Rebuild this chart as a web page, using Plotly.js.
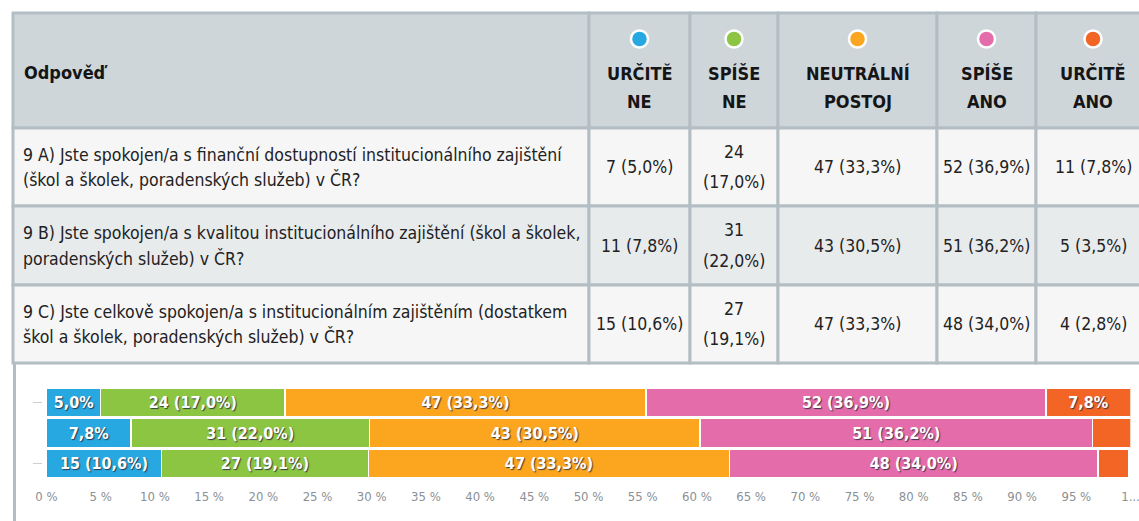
<!DOCTYPE html>
<html>
<head>
<meta charset="utf-8">
<script src="https://cdn.plot.ly/plotly-3.0.1.min.js"></script>
<style>html,body{margin:0;padding:0;background:#fff;}#chart{width:1139px;height:521px;}</style>
</head>
<body>
<div id="chart"></div>
<script>
// ---------- data ----------
const headerFirst = 'Odpověď';
const categories = ['URČITĚ NE', 'SPÍŠE NE', 'NEUTRÁLNÍ POSTOJ', 'SPÍŠE ANO', 'URČITĚ ANO'];
const rowKeys = ['9 A', '9 B', '9 C'];
const questionA = ['9 A) Jste spokojen/a s finanční dostupností institucionálního zajištění', '(škol a školek, poradenských služeb) v ČR?'];
const questionB = ['9 B) Jste spokojen/a s kvalitou institucionálního zajištění (škol a školek,', 'poradenských služeb) v ČR?'];
const questionC = ['9 C) Jste celkově spokojen/a s institucionálním zajištěním (dostatkem', 'škol a školek, poradenských služeb) v ČR?'];
const countsA = [7, 24, 47, 52, 11];
const countsB = [11, 31, 43, 51, 5];
const countsC = [15, 27, 47, 48, 4];
const pctA = [5.0, 17.0, 33.3, 36.9, 7.8];
const pctB = [7.8, 22.0, 30.5, 36.2, 3.5];
const pctC = [10.6, 19.1, 33.3, 34.0, 2.8];
const tickVals = [0, 5, 10, 15, 20, 25, 30, 35, 40, 45, 50, 55, 60, 65, 70, 75, 80, 85, 90, 95, 100];
const tickText = ['0 %', '5 %', '10 %', '15 %', '20 %', '25 %', '30 %', '35 %', '40 %', '45 %', '50 %', '55 %', '60 %', '65 %', '70 %', '75 %', '80 %', '85 %', '90 %', '95 %', '1...'];

// ---------- style ----------
const colors = ['#27a8e0', '#8bc541', '#fba61e', '#e46caa', '#f26524'];
const FONT = '"DejaVu Sans Condensed", "Liberation Sans Narrow", sans-serif';
const W = 1139, H = 521;
const px = x => x / W, py = y => 1 - y / H;
const colEdges = [13, 589, 690, 778, 937, 1036, 1150];
const rowEdges = [13, 128, 206, 285, 363];
const rowFills = ['#f6f6f6', '#e8ebec', '#f6f6f6'];
const headFill = '#cfd6da';
const borderCol = '#b3bec4';
const wrapCols = [false, true, false, false, false];
const textCol = '#222222';

const questions = [questionA, questionB, questionC];
const counts = [countsA, countsB, countsC];
const pcts = [pctA, pctB, pctC];
const fmt = v => v.toFixed(1).replace('.', ',') + '%';

const shapes = [];
const annotations = [];

// chart panel left border
shapes.push({type: 'line', xref: 'paper', yref: 'paper', x0: px(14.5), x1: px(14.5), y0: py(362), y1: py(530),
  line: {color: borderCol, width: 3}});

// header cells
for (let c = 0; c < colEdges.length - 1; c++) {
  shapes.push({type: 'rect', xref: 'paper', yref: 'paper', x0: px(colEdges[c]), x1: px(colEdges[c + 1]),
    y0: py(rowEdges[0]), y1: py(rowEdges[1]), fillcolor: headFill, line: {color: borderCol, width: 3}});
}
annotations.push({xref: 'paper', yref: 'paper', x: px(22), y: py(72), xanchor: 'left', yanchor: 'middle',
  text: headerFirst, showarrow: false, font: {family: FONT, size: 18, color: '#151515', weight: 'bold'}});
categories.forEach((cat, i) => {
  const cx = (colEdges[i + 1] + colEdges[i + 2]) / 2;
  const r = 8.5;
  shapes.push({type: 'circle', xref: 'paper', yref: 'paper', x0: px(cx - r), x1: px(cx + r), y0: py(39 + r), y1: py(39 - r),
    fillcolor: colors[i], line: {color: '#ffffff', width: 2.5}});
  const sp = cat.indexOf(' ');
  const lines = [cat.slice(0, sp), cat.slice(sp + 1)];
  lines.forEach((ln, k) => {
    annotations.push({xref: 'paper', yref: 'paper', x: px(cx), y: py(73 + k * 28), xanchor: 'center', yanchor: 'middle',
      text: ln, showarrow: false, font: {family: FONT, size: 18, color: '#151515', weight: 'bold'}});
  });
});

// body cells
for (let r = 0; r < 3; r++) {
  const top = rowEdges[r + 1], bot = rowEdges[r + 2], cy = (top + bot) / 2;
  for (let c = 0; c < colEdges.length - 1; c++) {
    shapes.push({type: 'rect', xref: 'paper', yref: 'paper', x0: px(colEdges[c]), x1: px(colEdges[c + 1]),
      y0: py(top), y1: py(bot), fillcolor: rowFills[r], line: {color: borderCol, width: 3}});
  }
  questions[r].forEach((ln, k) => {
    annotations.push({xref: 'paper', yref: 'paper', x: px(21), y: py(cy - 12.5 + k * 25), xanchor: 'left', yanchor: 'middle',
      text: ln, showarrow: false, font: {family: FONT, size: 17.5, color: textCol}});
  });
  categories.forEach((cat, i) => {
    const cx = (colEdges[i + 1] + colEdges[i + 2]) / 2;
    const a = String(counts[r][i]), b = '(' + fmt(pcts[r][i]) + ')';
    const lines = wrapCols[i] ? [a, b] : [a + ' ' + b];
    lines.forEach((ln, k) => {
      const y = lines.length === 1 ? cy : cy - 15 + k * 30;
      annotations.push({xref: 'paper', yref: 'paper', x: px(cx), y: py(y), xanchor: 'center', yanchor: 'middle',
        text: ln, showarrow: false, font: {family: FONT, size: 17.5, color: textCol}});
    });
  });
}

// ---------- bars ----------
function barLabel(n, p) {
  if (p < 4) return '';
  if (p < 9) return fmt(p);
  return n + ' (' + fmt(p) + ')';
}
const traces = categories.map((cat, i) => ({
  type: 'bar', orientation: 'h', name: cat,
  y: rowKeys,
  x: pcts.map(p => p[i]),
  text: pcts.map((p, r) => barLabel(counts[r][i], p[i])),
  textposition: 'inside', insidetextanchor: 'middle', textangle: 0, constraintext: 'none',
  textfont: {family: FONT, size: 16, color: '#ffffff', weight: 'bold', shadow: '1px 1px 1px rgba(40,40,60,0.85)'},
  marker: {color: colors[i], line: {color: '#ffffff', width: 1.5}},
  hoverinfo: 'skip'
}));

const layout = {
  width: W, height: H,
  margin: {l: 0, r: 0, t: 0, b: 0},
  paper_bgcolor: '#ffffff', plot_bgcolor: '#ffffff',
  showlegend: false,
  barmode: 'stack', bargap: 0.05,
  xaxis: {domain: [px(46.5), px(1130.5)], range: [0, 100], tickvals: tickVals, ticktext: tickText,
    showgrid: false, zeroline: false, showline: false, ticks: '', ticklabelstandoff: 8,
    ticklabeloverflow: 'allow', automargin: false,
    tickfont: {family: FONT, size: 13, color: '#8a9095'}, fixedrange: true},
  yaxis: {domain: [py(479), py(387)], type: 'category', autorange: 'reversed', showticklabels: false,
    showgrid: false, zeroline: false, showline: false, ticks: 'outside', ticklen: 9, tickwidth: 1,
    tickcolor: '#c9d1d6', tickvals: ['9 A', '9 C'], anchor: 'free', position: px(42), fixedrange: true},
  shapes: shapes,
  annotations: annotations
};

Plotly.newPlot('chart', traces, layout, {displayModeBar: false, staticPlot: true});
</script>
</body>
</html>
